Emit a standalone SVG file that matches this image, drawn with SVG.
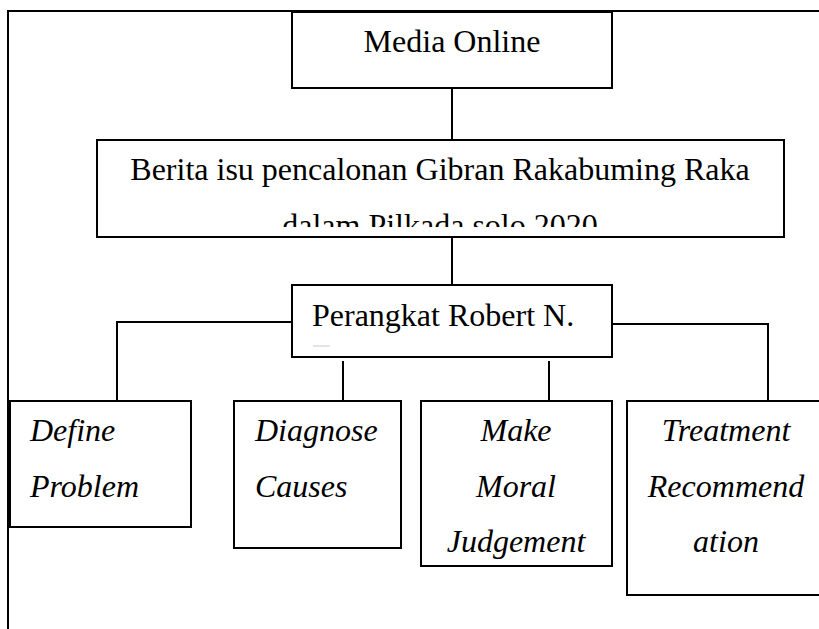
<svg xmlns="http://www.w3.org/2000/svg" width="819" height="629" viewBox="0 0 819 629">
  <style>
    .box { fill: #ffffff; stroke: #000000; stroke-width: 2; }
    .conn { fill: none; stroke: #000000; stroke-width: 2; }
    .frame { fill: none; stroke: #000000; stroke-width: 2; }
    .t { font-family: "Liberation Serif", "Times New Roman", serif; font-size: 32px; fill: #000000; }
    .it { font-style: italic; }
  </style>
  <defs>
    <clipPath id="beritaClip">
      <rect x="97" y="140" width="687" height="87"/>
    </clipPath>
  </defs>
  <rect x="0" y="0" width="819" height="629" fill="#ffffff"/>
  <!-- page frame -->
  <g id="frame">
    <path class="frame" d="M8,629 V11 H819"/>
  </g>
  <!-- connectors -->
  <g id="connectors">
    <path class="conn" d="M452,88 V140"/>
    <path class="conn" d="M452,237 V285"/>
    <path class="conn" d="M292,322 H117 V400"/>
    <path class="conn" d="M343,361 V400"/>
    <path class="conn" d="M549,361 V400"/>
    <path class="conn" d="M612,324 H768 V400"/>
  </g>
  <g id="media-online">
    <rect class="box" x="292" y="12" width="320" height="76"/>
    <text class="t" x="452" y="52" text-anchor="middle">Media Online</text>
  </g>
  <g id="berita">
    <rect class="box" x="97" y="140" width="687" height="97"/>
    <g clip-path="url(#beritaClip)">
      <text class="t" x="440" y="180" text-anchor="middle">Berita isu pencalonan Gibran Rakabuming Raka</text>
      <text class="t" x="440" y="236" text-anchor="middle">dalam Pilkada solo 2020</text>
    </g>
  </g>
  <g id="perangkat">
    <rect class="box" x="292" y="285" width="320" height="72"/>
    <text class="t" x="312" y="326">Perangkat Robert N.</text>
    <line x1="313" y1="346" x2="330" y2="346" stroke="#c8c8c8" stroke-width="1"/>
  </g>
  <g id="define-problem">
    <rect class="box" x="10" y="401" width="181" height="126"/>
    <text class="t it" x="30" y="441">Define</text>
    <text class="t it" x="30" y="497">Problem</text>
  </g>
  <g id="diagnose-causes">
    <rect class="box" x="234" y="401" width="167" height="147"/>
    <text class="t it" x="255" y="441">Diagnose</text>
    <text class="t it" x="255" y="497">Causes</text>
  </g>
  <g id="moral-judgement">
    <rect class="box" x="421" y="401" width="191" height="165"/>
    <text class="t it" x="516" y="441" text-anchor="middle">Make</text>
    <text class="t it" x="516" y="497" text-anchor="middle">Moral</text>
    <text class="t it" x="516" y="552" text-anchor="middle">Judgement</text>
  </g>
  <g id="treatment">
    <rect class="box" x="627" y="401" width="200" height="194"/>
    <text class="t it" x="726" y="441" text-anchor="middle">Treatment</text>
    <text class="t it" x="726" y="497" text-anchor="middle">Recommend</text>
    <text class="t it" x="726" y="552" text-anchor="middle">ation</text>
  </g>
</svg>
